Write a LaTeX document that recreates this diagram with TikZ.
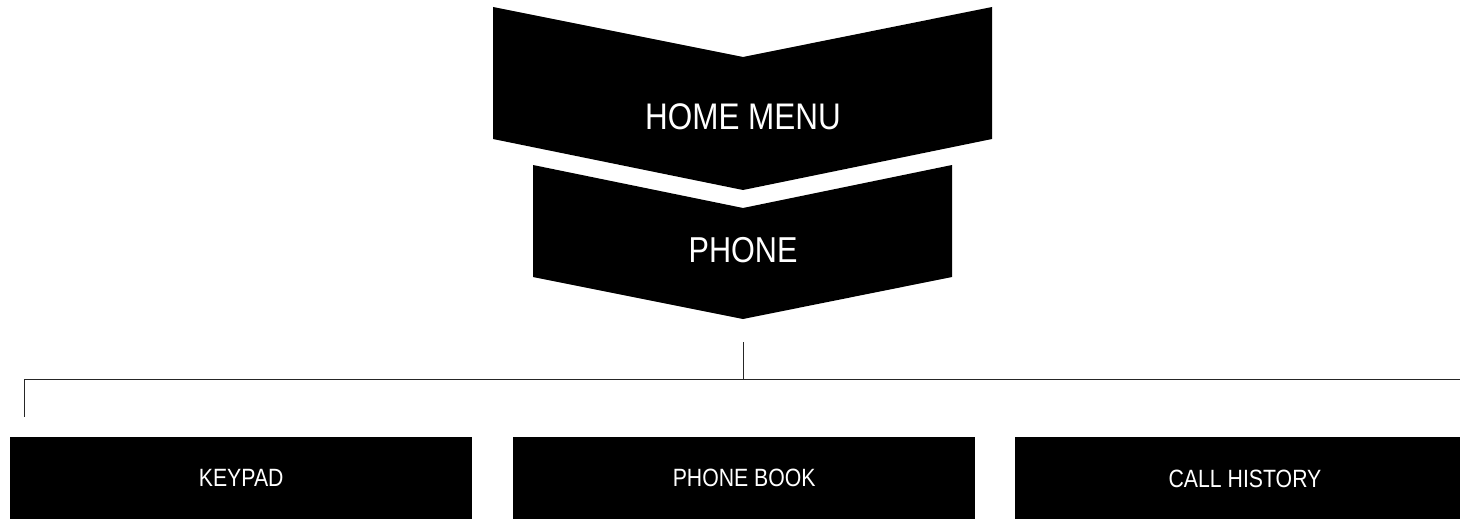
\documentclass[tikz,border=0pt]{standalone}
\usepackage{fontspec}
\setmainfont{Liberation Sans}[FakeStretch=0.85]
\begin{document}
\begin{tikzpicture}[x=1pt,y=-1pt,
  chev/.style={fill=black,draw=none},
  menubox/.style={fill=black,draw=none,minimum width=462pt,minimum height=82pt,inner sep=0pt,anchor=north west},
  bigtxt/.style={text=white,font=\fontsize{37}{40}\selectfont,inner sep=0pt},
  midtxt/.style={text=white,font=\fontsize{36}{40}\selectfont,inner sep=0pt},
  smalltxt/.style={text=white,font=\fontsize{25}{28}\selectfont},
  conn/.style={draw=black!85,line width=0.9pt}]
\useasboundingbox (0,0) rectangle (1460,519);
\begin{scope}
\clip (0,0) rectangle (1460,519);
% home menu chevron
\fill[chev] (493,7) -- (743,57) -- (992,7) -- (992,139) -- (743,190) -- (493,139) -- cycle;
\node[bigtxt] (home) at (743,117) {HOME MENU};
% phone chevron
\fill[chev] (533,165) -- (743,208) -- (952,165) -- (952,277) -- (743,319) -- (533,277) -- cycle;
\node[midtxt] (phone) at (743,250) {PHONE};
% boxes
\node[menubox] (keypad) at (10,437) {};
\node[menubox] (book) at (513,437) {};
\node[menubox] (hist) at (1015,437) {};
\node[smalltxt] (keypadt) at (keypad.center) {KEYPAD};
\node[smalltxt] (bookt) at (book.center) {PHONE BOOK};
\node[smalltxt] (histt) at (1245,479) {CALL HISTORY};
% connectors
\coordinate (ptop) at (743,342);
\coordinate (pjoin) at (743,379);
\coordinate (lcorner) at (24,379);
\coordinate (rend) at (1462,379);
\coordinate (lend) at (24,417);
\draw[conn] (ptop) -- (pjoin);
\draw[conn] (rend) -- (lcorner) -- (lend);
\end{scope}
\end{tikzpicture}
\end{document}
